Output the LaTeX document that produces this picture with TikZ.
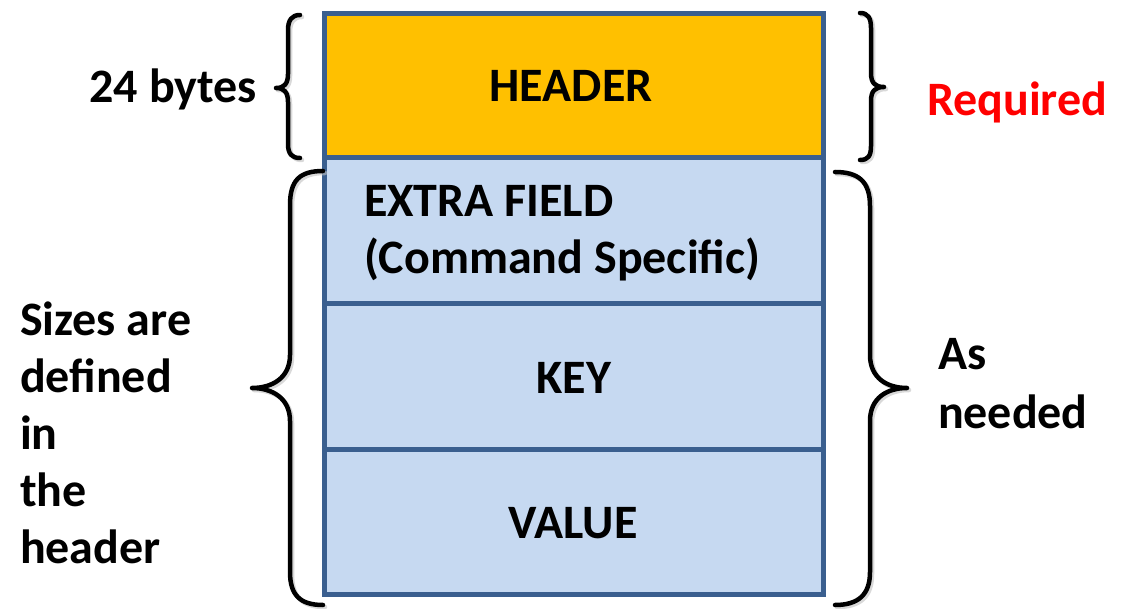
\documentclass[tikz,border=0pt]{standalone}
\usepackage{fontspec}
\setmainfont{Carlito}
\definecolor{hdrfill}{HTML}{FFC000}
\definecolor{bodyfill}{HTML}{C6D9F1}
\definecolor{frame}{HTML}{3A5F8F}
\definecolor{reqred}{HTML}{FF0000}
\begin{document}
\begin{tikzpicture}[x=1pt,y=-1pt,
  field/.style={draw=frame,line width=5pt,minimum width=499pt,inner sep=0pt,outer sep=0pt},
  lbl/.style={font=\fontsize{48}{57}\selectfont\bfseries,inner sep=0pt,outer sep=0pt},
  brace/.style={draw=black,line width=4.5pt,line cap=round,line join=round},
  braceshadow/.style={draw=black!25,line width=4.5pt,line cap=round,line join=round,opacity=0.6}]
\useasboundingbox (0,0) rectangle (1121,609);

% stacked packet fields
\node[field,fill=hdrfill,minimum height=144pt] (header) at (573.5,86) {};
\node[field,fill=bodyfill,minimum height=146pt] (extra) at (573.5,231) {};
\node[field,fill=bodyfill,minimum height=145pt] (key) at (573.5,376.5) {};
\node[field,fill=bodyfill,minimum height=145pt] (value) at (573.5,521.5) {};
\draw[frame,line width=5pt] (header.north west) rectangle (value.south east);

% field captions
\node[lbl,anchor=base] (thdr) at (571,102) {HEADER};
\node[lbl,anchor=base west] (tex1) at (364,217) {EXTRA FIELD};
\node[lbl,anchor=base west] (tex2) at (364,274) {(Command Specific)};
\node[lbl,anchor=base] (tkey) at (574,393) {KEY};
\node[lbl,anchor=base] (tval) at (573,538) {VALUE};

% side captions
\node[lbl,anchor=base east] (bytes) at (257,103) {24 bytes};
\node[lbl,anchor=base west,text=reqred] (req) at (927,116) {Required};
\node[lbl,anchor=base west] (s1) at (20,335) {Sizes are};
\node[lbl,anchor=base west] (s2) at (20,392) {defined};
\node[lbl,anchor=base west] (s3) at (20,449) {in};
\node[lbl,anchor=base west] (s4) at (20,506) {the};
\node[lbl,anchor=base west] (s5) at (20,563) {header};
\node[lbl,anchor=base west] (a1) at (938,370) {As};
\node[lbl,anchor=base west] (a2) at (938,428) {needed};

% brace shapes
\def\smallleft{(300,15) .. controls (292,15) and (288,20) .. (288,30) -- (288,74)
  .. controls (288,84) and (284,88) .. (276,88) .. controls (284,88) and (288,92) .. (288,102)
  -- (288,144) .. controls (288,154) and (292,158) .. (300,158)}
\def\smallright{(860,13) .. controls (868,13) and (871,18) .. (871,28) -- (871,73)
  .. controls (871,83) and (875,87) .. (884,87) .. controls (875,87) and (871,91) .. (871,101)
  -- (871,146) .. controls (871,156) and (868,160) .. (860,160)}
\def\bigleft{(323,171) .. controls (300,171) and (290,180) .. (290,205) -- (290,355)
  .. controls (290,378) and (272,388) .. (252,388) .. controls (272,388) and (290,398) .. (290,421)
  -- (290,572) .. controls (290,595) and (300,605) .. (323,605)}
\def\bigright{(835,172) .. controls (858,172) and (870,181) .. (870,206) -- (870,355)
  .. controls (870,378) and (887,388) .. (907,388) .. controls (887,388) and (870,398) .. (870,421)
  -- (870,572) .. controls (870,595) and (858,605) .. (835,605)}

\begin{scope}[shift={(2,2)}]
  \path[braceshadow] \smallleft;
  \path[braceshadow] \smallright;
  \path[braceshadow] \bigleft;
  \path[braceshadow] \bigright;
\end{scope}
\path[brace] \smallleft;
\path[brace] \smallright;
\path[brace] \bigleft;
\path[brace] \bigright;
\end{tikzpicture}
\end{document}
